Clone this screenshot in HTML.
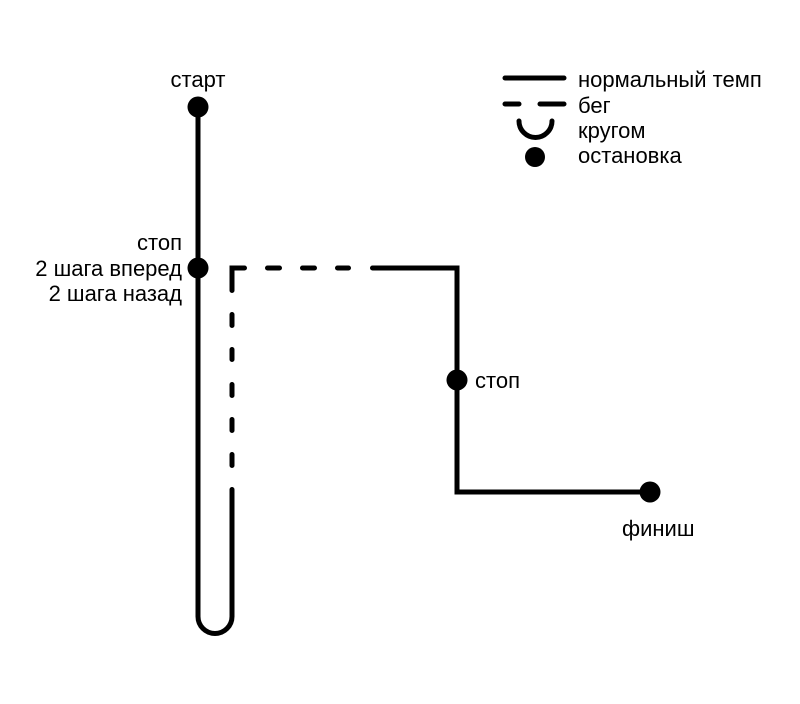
<!DOCTYPE html>
<html>
<head>
<meta charset="utf-8">
<style>
  html, body { margin: 0; padding: 0; background: #fff; }
  svg { display: block; }
  text { font-family: "Liberation Sans", Arial, sans-serif; font-size: 22px; fill: #000; }
</style>
</head>
<body>
<svg width="800" height="704" viewBox="0 0 800 704" xmlns="http://www.w3.org/2000/svg">
  <rect width="800" height="704" fill="#fff"/>
  <g fill="none" stroke="#000" stroke-width="5" stroke-linecap="round" stroke-linejoin="miter">
    <path d="M198 107 V616.5 A17 17 0 0 0 232 616.5 V489.5"/>
    <path d="M232 314.5 V325.5 M232 349.5 V359.5 M232 384.5 V395.5 M232 419.5 V430.5 M232 454.5 V465.5"/>
    <path d="M232 290.5 V268 H244.5"/>
    <path d="M267.5 268 H279.5 M302.5 268 H314.5 M337.5 268 H348.5"/>
    <path d="M372.5 268 H457 V492 H650"/>
    <path d="M505 78 H564"/>
    <path d="M505 104 H519 M540 104 H564"/>
    <path d="M519 121 A16.5 16.5 0 0 0 552 121"/>
  </g>
  <g fill="#000">
    <circle cx="198" cy="107" r="10.5"/>
    <circle cx="198" cy="268" r="10.5"/>
    <circle cx="457" cy="380" r="10.5"/>
    <circle cx="650" cy="492" r="10.5"/>
    <circle cx="535" cy="157" r="10"/>
  </g>
  <text x="198" y="87" text-anchor="middle">старт</text>
  <text x="182" y="250" text-anchor="end">стоп</text>
  <text x="182" y="276" text-anchor="end">2 шага вперед</text>
  <text x="182" y="301" text-anchor="end">2 шага назад</text>
  <text x="475" y="388">стоп</text>
  <text x="622" y="536">финиш</text>
  <text x="578" y="87">нормальный темп</text>
  <text x="578" y="113">бег</text>
  <text x="578" y="138">кругом</text>
  <text x="578" y="163">остановка</text>
</svg>
</body>
</html>
